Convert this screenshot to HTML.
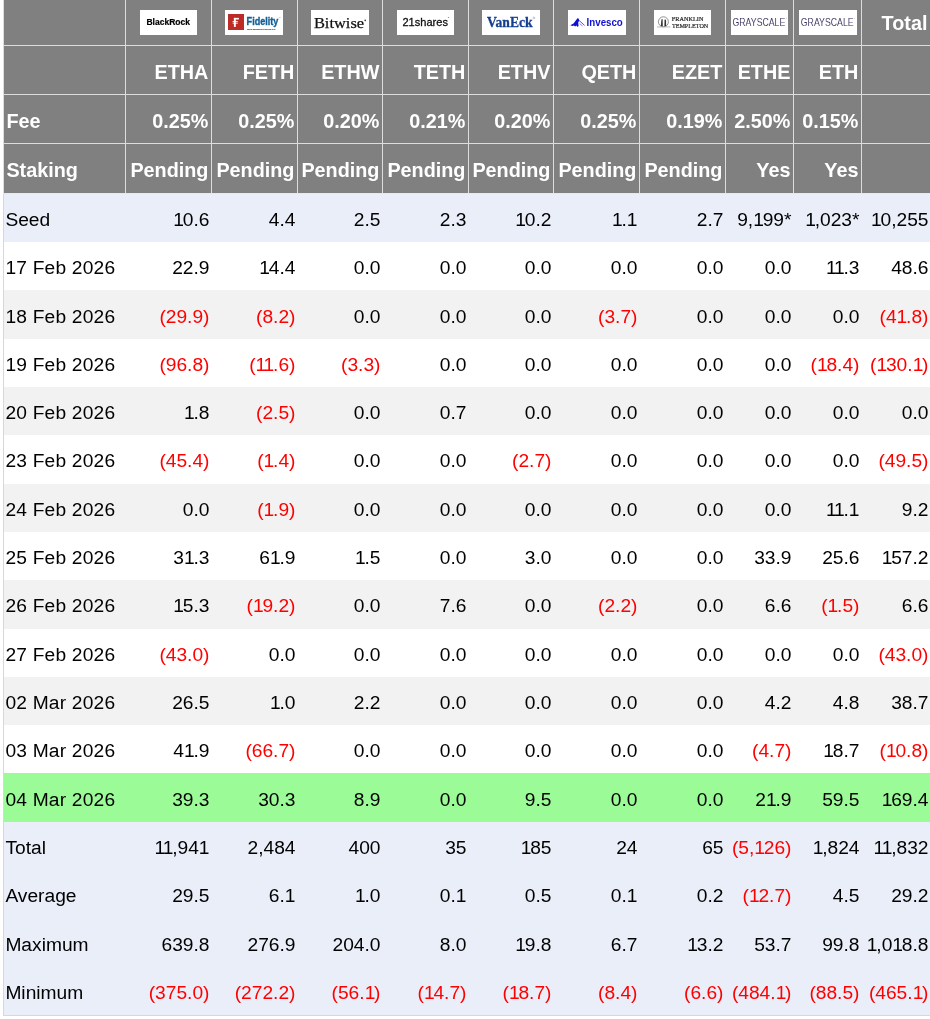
<!DOCTYPE html><html><head><meta charset="utf-8"><style>
html,body{margin:0;padding:0;background:#fff;width:930px;height:1019px;overflow:hidden;position:relative}
*{box-sizing:border-box}
.a{position:absolute}
.t{position:absolute;white-space:nowrap;line-height:20px;font-family:"Liberation Sans",sans-serif;font-size:19.2px;color:#000}
.h{font-weight:bold;color:#fff;font-size:19.8px}
.r{color:#ff0000}
.o{letter-spacing:-1.2px}
.d{letter-spacing:0.2px}
.logo{position:absolute;background:#fff;top:10px;height:25px;overflow:hidden}

</style></head><body>
<div class="a" style="left:4px;top:0;width:926px;height:193px;background:#808080"></div>
<div class="a" style="left:3px;top:0;width:1px;height:193px;background:#dddddd"></div>
<div class="a" style="left:125px;top:0;width:1px;height:193px;background:#dddddd"></div>
<div class="a" style="left:211px;top:0;width:1px;height:193px;background:#dddddd"></div>
<div class="a" style="left:297px;top:0;width:1px;height:193px;background:#dddddd"></div>
<div class="a" style="left:382px;top:0;width:1px;height:193px;background:#dddddd"></div>
<div class="a" style="left:468px;top:0;width:1px;height:193px;background:#dddddd"></div>
<div class="a" style="left:553px;top:0;width:1px;height:193px;background:#dddddd"></div>
<div class="a" style="left:639px;top:0;width:1px;height:193px;background:#dddddd"></div>
<div class="a" style="left:725px;top:0;width:1px;height:193px;background:#dddddd"></div>
<div class="a" style="left:793px;top:0;width:1px;height:193px;background:#dddddd"></div>
<div class="a" style="left:861px;top:0;width:1px;height:193px;background:#dddddd"></div>
<div class="a" style="left:3px;top:45px;width:927px;height:1px;background:#dddddd"></div>
<div class="a" style="left:3px;top:94px;width:927px;height:1px;background:#dddddd"></div>
<div class="a" style="left:3px;top:143px;width:927px;height:1px;background:#dddddd"></div>
<div class="a" style="left:3px;top:193px;width:927px;height:1px;background:#e6e8ec"></div>
<div class="a" style="left:4px;top:194px;width:926px;height:48px;background:#e9eef9"></div>
<div class="a" style="left:4px;top:242px;width:926px;height:48px;background:#ffffff"></div>
<div class="a" style="left:4px;top:290px;width:926px;height:49px;background:#f2f2f2"></div>
<div class="a" style="left:4px;top:339px;width:926px;height:48px;background:#ffffff"></div>
<div class="a" style="left:4px;top:387px;width:926px;height:48px;background:#f2f2f2"></div>
<div class="a" style="left:4px;top:435px;width:926px;height:49px;background:#ffffff"></div>
<div class="a" style="left:4px;top:484px;width:926px;height:48px;background:#f2f2f2"></div>
<div class="a" style="left:4px;top:532px;width:926px;height:48px;background:#ffffff"></div>
<div class="a" style="left:4px;top:580px;width:926px;height:49px;background:#f2f2f2"></div>
<div class="a" style="left:4px;top:629px;width:926px;height:48px;background:#ffffff"></div>
<div class="a" style="left:4px;top:677px;width:926px;height:48px;background:#f2f2f2"></div>
<div class="a" style="left:4px;top:725px;width:926px;height:48px;background:#ffffff"></div>
<div class="a" style="left:4px;top:773px;width:926px;height:49px;background:#9bfc97"></div>
<div class="a" style="left:4px;top:822px;width:926px;height:48px;background:#e9eef9"></div>
<div class="a" style="left:4px;top:870px;width:926px;height:48px;background:#e9eef9"></div>
<div class="a" style="left:4px;top:918px;width:926px;height:49px;background:#e9eef9"></div>
<div class="a" style="left:4px;top:967px;width:926px;height:48px;background:#e9eef9"></div>
<div class="a" style="left:3px;top:194px;width:1px;height:822px;background:#dcd8ce"></div>
<div class="a" style="left:3px;top:1015px;width:927px;height:1px;background:#dcd8ce"></div>
<div class="a" style="left:0;top:0;width:930px;height:1019px;will-change:transform">
<div class="t h" style="top:13.14px;right:2.60px">Total</div>
<div class="t h" style="top:61.64px;right:721.60px">ETHA</div>
<div class="t h" style="top:61.64px;right:635.60px">FETH</div>
<div class="t h" style="top:61.64px;right:550.60px">ETHW</div>
<div class="t h" style="top:61.64px;right:464.60px">TETH</div>
<div class="t h" style="top:61.64px;right:379.60px">ETHV</div>
<div class="t h" style="top:61.64px;right:293.60px">QETH</div>
<div class="t h" style="top:61.64px;right:207.60px">EZET</div>
<div class="t h" style="top:61.64px;right:139.60px">ETHE</div>
<div class="t h" style="top:61.64px;right:71.60px">ETH</div>
<div class="t h" style="top:111.44px;left:6.40px">Fee</div>
<div class="t h" style="top:111.44px;right:721.60px">0.25%</div>
<div class="t h" style="top:111.44px;right:635.60px">0.25%</div>
<div class="t h" style="top:111.44px;right:550.60px">0.20%</div>
<div class="t h" style="top:111.44px;right:464.60px">0.21%</div>
<div class="t h" style="top:111.44px;right:379.60px">0.20%</div>
<div class="t h" style="top:111.44px;right:293.60px">0.25%</div>
<div class="t h" style="top:111.44px;right:207.60px">0.19%</div>
<div class="t h" style="top:111.44px;right:139.60px">2.50%</div>
<div class="t h" style="top:111.44px;right:71.60px">0.15%</div>
<div class="t h" style="top:159.64px;left:6.40px">Staking</div>
<div class="t h" style="top:159.64px;right:721.60px">Pending</div>
<div class="t h" style="top:159.64px;right:635.60px">Pending</div>
<div class="t h" style="top:159.64px;right:550.60px">Pending</div>
<div class="t h" style="top:159.64px;right:464.60px">Pending</div>
<div class="t h" style="top:159.64px;right:379.60px">Pending</div>
<div class="t h" style="top:159.64px;right:293.60px">Pending</div>
<div class="t h" style="top:159.64px;right:207.60px">Pending</div>
<div class="t h" style="top:159.64px;right:139.60px">Yes</div>
<div class="t h" style="top:159.64px;right:71.60px">Yes</div>
<div class="t" style="top:209.89px;left:5.40px">Seed</div>
<div class="t" style="top:209.89px;right:720.50px"><span class="o">1</span>0.6</div>
<div class="t" style="top:209.89px;right:634.50px">4.4</div>
<div class="t" style="top:209.89px;right:549.50px">2.5</div>
<div class="t" style="top:209.89px;right:463.50px">2.3</div>
<div class="t" style="top:209.89px;right:378.50px"><span class="o">1</span>0.2</div>
<div class="t" style="top:209.89px;right:292.50px"><span class="o">1</span>.1</div>
<div class="t" style="top:209.89px;right:206.50px">2.7</div>
<div class="t" style="top:209.89px;right:138.50px">9,<span class="o">1</span>99*</div>
<div class="t" style="top:209.89px;right:70.50px"><span class="o">1</span>,023*</div>
<div class="t" style="top:209.89px;right:1.50px"><span class="o">1</span>0,255</div>
<div class="t d" style="top:258.20px;left:5.40px">17 Feb 2026</div>
<div class="t" style="top:258.20px;right:720.50px">22.9</div>
<div class="t" style="top:258.20px;right:634.50px"><span class="o">1</span>4.4</div>
<div class="t" style="top:258.20px;right:549.50px">0.0</div>
<div class="t" style="top:258.20px;right:463.50px">0.0</div>
<div class="t" style="top:258.20px;right:378.50px">0.0</div>
<div class="t" style="top:258.20px;right:292.50px">0.0</div>
<div class="t" style="top:258.20px;right:206.50px">0.0</div>
<div class="t" style="top:258.20px;right:138.50px">0.0</div>
<div class="t" style="top:258.20px;right:70.50px"><span class="o">1</span><span class="o">1</span>.3</div>
<div class="t" style="top:258.20px;right:1.50px">48.6</div>
<div class="t d" style="top:306.51px;left:5.40px">18 Feb 2026</div>
<div class="t r" style="top:306.51px;right:720.50px">(29.9)</div>
<div class="t r" style="top:306.51px;right:634.50px">(8.2)</div>
<div class="t" style="top:306.51px;right:549.50px">0.0</div>
<div class="t" style="top:306.51px;right:463.50px">0.0</div>
<div class="t" style="top:306.51px;right:378.50px">0.0</div>
<div class="t r" style="top:306.51px;right:292.50px">(3.7)</div>
<div class="t" style="top:306.51px;right:206.50px">0.0</div>
<div class="t" style="top:306.51px;right:138.50px">0.0</div>
<div class="t" style="top:306.51px;right:70.50px">0.0</div>
<div class="t r" style="top:306.51px;right:1.50px">(4<span class="o">1</span>.8)</div>
<div class="t d" style="top:354.82px;left:5.40px">19 Feb 2026</div>
<div class="t r" style="top:354.82px;right:720.50px">(96.8)</div>
<div class="t r" style="top:354.82px;right:634.50px">(<span class="o">1</span><span class="o">1</span>.6)</div>
<div class="t r" style="top:354.82px;right:549.50px">(3.3)</div>
<div class="t" style="top:354.82px;right:463.50px">0.0</div>
<div class="t" style="top:354.82px;right:378.50px">0.0</div>
<div class="t" style="top:354.82px;right:292.50px">0.0</div>
<div class="t" style="top:354.82px;right:206.50px">0.0</div>
<div class="t" style="top:354.82px;right:138.50px">0.0</div>
<div class="t r" style="top:354.82px;right:70.50px">(<span class="o">1</span>8.4)</div>
<div class="t r" style="top:354.82px;right:1.50px">(<span class="o">1</span>30.<span class="o">1</span>)</div>
<div class="t d" style="top:403.13px;left:5.40px">20 Feb 2026</div>
<div class="t" style="top:403.13px;right:720.50px"><span class="o">1</span>.8</div>
<div class="t r" style="top:403.13px;right:634.50px">(2.5)</div>
<div class="t" style="top:403.13px;right:549.50px">0.0</div>
<div class="t" style="top:403.13px;right:463.50px">0.7</div>
<div class="t" style="top:403.13px;right:378.50px">0.0</div>
<div class="t" style="top:403.13px;right:292.50px">0.0</div>
<div class="t" style="top:403.13px;right:206.50px">0.0</div>
<div class="t" style="top:403.13px;right:138.50px">0.0</div>
<div class="t" style="top:403.13px;right:70.50px">0.0</div>
<div class="t" style="top:403.13px;right:1.50px">0.0</div>
<div class="t d" style="top:451.44px;left:5.40px">23 Feb 2026</div>
<div class="t r" style="top:451.44px;right:720.50px">(45.4)</div>
<div class="t r" style="top:451.44px;right:634.50px">(<span class="o">1</span>.4)</div>
<div class="t" style="top:451.44px;right:549.50px">0.0</div>
<div class="t" style="top:451.44px;right:463.50px">0.0</div>
<div class="t r" style="top:451.44px;right:378.50px">(2.7)</div>
<div class="t" style="top:451.44px;right:292.50px">0.0</div>
<div class="t" style="top:451.44px;right:206.50px">0.0</div>
<div class="t" style="top:451.44px;right:138.50px">0.0</div>
<div class="t" style="top:451.44px;right:70.50px">0.0</div>
<div class="t r" style="top:451.44px;right:1.50px">(49.5)</div>
<div class="t d" style="top:499.75px;left:5.40px">24 Feb 2026</div>
<div class="t" style="top:499.75px;right:720.50px">0.0</div>
<div class="t r" style="top:499.75px;right:634.50px">(<span class="o">1</span>.9)</div>
<div class="t" style="top:499.75px;right:549.50px">0.0</div>
<div class="t" style="top:499.75px;right:463.50px">0.0</div>
<div class="t" style="top:499.75px;right:378.50px">0.0</div>
<div class="t" style="top:499.75px;right:292.50px">0.0</div>
<div class="t" style="top:499.75px;right:206.50px">0.0</div>
<div class="t" style="top:499.75px;right:138.50px">0.0</div>
<div class="t" style="top:499.75px;right:70.50px"><span class="o">1</span><span class="o">1</span>.1</div>
<div class="t" style="top:499.75px;right:1.50px">9.2</div>
<div class="t d" style="top:548.06px;left:5.40px">25 Feb 2026</div>
<div class="t" style="top:548.06px;right:720.50px">3<span class="o">1</span>.3</div>
<div class="t" style="top:548.06px;right:634.50px">6<span class="o">1</span>.9</div>
<div class="t" style="top:548.06px;right:549.50px"><span class="o">1</span>.5</div>
<div class="t" style="top:548.06px;right:463.50px">0.0</div>
<div class="t" style="top:548.06px;right:378.50px">3.0</div>
<div class="t" style="top:548.06px;right:292.50px">0.0</div>
<div class="t" style="top:548.06px;right:206.50px">0.0</div>
<div class="t" style="top:548.06px;right:138.50px">33.9</div>
<div class="t" style="top:548.06px;right:70.50px">25.6</div>
<div class="t" style="top:548.06px;right:1.50px"><span class="o">1</span>57.2</div>
<div class="t d" style="top:596.37px;left:5.40px">26 Feb 2026</div>
<div class="t" style="top:596.37px;right:720.50px"><span class="o">1</span>5.3</div>
<div class="t r" style="top:596.37px;right:634.50px">(<span class="o">1</span>9.2)</div>
<div class="t" style="top:596.37px;right:549.50px">0.0</div>
<div class="t" style="top:596.37px;right:463.50px">7.6</div>
<div class="t" style="top:596.37px;right:378.50px">0.0</div>
<div class="t r" style="top:596.37px;right:292.50px">(2.2)</div>
<div class="t" style="top:596.37px;right:206.50px">0.0</div>
<div class="t" style="top:596.37px;right:138.50px">6.6</div>
<div class="t r" style="top:596.37px;right:70.50px">(<span class="o">1</span>.5)</div>
<div class="t" style="top:596.37px;right:1.50px">6.6</div>
<div class="t d" style="top:644.68px;left:5.40px">27 Feb 2026</div>
<div class="t r" style="top:644.68px;right:720.50px">(43.0)</div>
<div class="t" style="top:644.68px;right:634.50px">0.0</div>
<div class="t" style="top:644.68px;right:549.50px">0.0</div>
<div class="t" style="top:644.68px;right:463.50px">0.0</div>
<div class="t" style="top:644.68px;right:378.50px">0.0</div>
<div class="t" style="top:644.68px;right:292.50px">0.0</div>
<div class="t" style="top:644.68px;right:206.50px">0.0</div>
<div class="t" style="top:644.68px;right:138.50px">0.0</div>
<div class="t" style="top:644.68px;right:70.50px">0.0</div>
<div class="t r" style="top:644.68px;right:1.50px">(43.0)</div>
<div class="t d" style="top:692.99px;left:5.40px">02 Mar 2026</div>
<div class="t" style="top:692.99px;right:720.50px">26.5</div>
<div class="t" style="top:692.99px;right:634.50px"><span class="o">1</span>.0</div>
<div class="t" style="top:692.99px;right:549.50px">2.2</div>
<div class="t" style="top:692.99px;right:463.50px">0.0</div>
<div class="t" style="top:692.99px;right:378.50px">0.0</div>
<div class="t" style="top:692.99px;right:292.50px">0.0</div>
<div class="t" style="top:692.99px;right:206.50px">0.0</div>
<div class="t" style="top:692.99px;right:138.50px">4.2</div>
<div class="t" style="top:692.99px;right:70.50px">4.8</div>
<div class="t" style="top:692.99px;right:1.50px">38.7</div>
<div class="t d" style="top:741.30px;left:5.40px">03 Mar 2026</div>
<div class="t" style="top:741.30px;right:720.50px">4<span class="o">1</span>.9</div>
<div class="t r" style="top:741.30px;right:634.50px">(66.7)</div>
<div class="t" style="top:741.30px;right:549.50px">0.0</div>
<div class="t" style="top:741.30px;right:463.50px">0.0</div>
<div class="t" style="top:741.30px;right:378.50px">0.0</div>
<div class="t" style="top:741.30px;right:292.50px">0.0</div>
<div class="t" style="top:741.30px;right:206.50px">0.0</div>
<div class="t r" style="top:741.30px;right:138.50px">(4.7)</div>
<div class="t" style="top:741.30px;right:70.50px"><span class="o">1</span>8.7</div>
<div class="t r" style="top:741.30px;right:1.50px">(<span class="o">1</span>0.8)</div>
<div class="t d" style="top:789.61px;left:5.40px">04 Mar 2026</div>
<div class="t" style="top:789.61px;right:720.50px">39.3</div>
<div class="t" style="top:789.61px;right:634.50px">30.3</div>
<div class="t" style="top:789.61px;right:549.50px">8.9</div>
<div class="t" style="top:789.61px;right:463.50px">0.0</div>
<div class="t" style="top:789.61px;right:378.50px">9.5</div>
<div class="t" style="top:789.61px;right:292.50px">0.0</div>
<div class="t" style="top:789.61px;right:206.50px">0.0</div>
<div class="t" style="top:789.61px;right:138.50px">2<span class="o">1</span>.9</div>
<div class="t" style="top:789.61px;right:70.50px">59.5</div>
<div class="t" style="top:789.61px;right:1.50px"><span class="o">1</span>69.4</div>
<div class="t" style="top:837.92px;left:5.40px">Total</div>
<div class="t" style="top:837.92px;right:720.50px"><span class="o">1</span><span class="o">1</span>,941</div>
<div class="t" style="top:837.92px;right:634.50px">2,484</div>
<div class="t" style="top:837.92px;right:549.50px">400</div>
<div class="t" style="top:837.92px;right:463.50px">35</div>
<div class="t" style="top:837.92px;right:378.50px"><span class="o">1</span>85</div>
<div class="t" style="top:837.92px;right:292.50px">24</div>
<div class="t" style="top:837.92px;right:206.50px">65</div>
<div class="t r" style="top:837.92px;right:138.50px">(5,<span class="o">1</span>26)</div>
<div class="t" style="top:837.92px;right:70.50px"><span class="o">1</span>,824</div>
<div class="t" style="top:837.92px;right:1.50px"><span class="o">1</span><span class="o">1</span>,832</div>
<div class="t" style="top:886.23px;left:5.40px">Average</div>
<div class="t" style="top:886.23px;right:720.50px">29.5</div>
<div class="t" style="top:886.23px;right:634.50px">6.1</div>
<div class="t" style="top:886.23px;right:549.50px"><span class="o">1</span>.0</div>
<div class="t" style="top:886.23px;right:463.50px">0.1</div>
<div class="t" style="top:886.23px;right:378.50px">0.5</div>
<div class="t" style="top:886.23px;right:292.50px">0.1</div>
<div class="t" style="top:886.23px;right:206.50px">0.2</div>
<div class="t r" style="top:886.23px;right:138.50px">(<span class="o">1</span>2.7)</div>
<div class="t" style="top:886.23px;right:70.50px">4.5</div>
<div class="t" style="top:886.23px;right:1.50px">29.2</div>
<div class="t" style="top:934.54px;left:5.40px">Maximum</div>
<div class="t" style="top:934.54px;right:720.50px">639.8</div>
<div class="t" style="top:934.54px;right:634.50px">276.9</div>
<div class="t" style="top:934.54px;right:549.50px">204.0</div>
<div class="t" style="top:934.54px;right:463.50px">8.0</div>
<div class="t" style="top:934.54px;right:378.50px"><span class="o">1</span>9.8</div>
<div class="t" style="top:934.54px;right:292.50px">6.7</div>
<div class="t" style="top:934.54px;right:206.50px"><span class="o">1</span>3.2</div>
<div class="t" style="top:934.54px;right:138.50px">53.7</div>
<div class="t" style="top:934.54px;right:70.50px">99.8</div>
<div class="t" style="top:934.54px;right:1.50px"><span class="o">1</span>,0<span class="o">1</span>8.8</div>
<div class="t" style="top:982.85px;left:5.40px">Minimum</div>
<div class="t r" style="top:982.85px;right:720.50px">(375.0)</div>
<div class="t r" style="top:982.85px;right:634.50px">(272.2)</div>
<div class="t r" style="top:982.85px;right:549.50px">(56.<span class="o">1</span>)</div>
<div class="t r" style="top:982.85px;right:463.50px">(<span class="o">1</span>4.7)</div>
<div class="t r" style="top:982.85px;right:378.50px">(<span class="o">1</span>8.7)</div>
<div class="t r" style="top:982.85px;right:292.50px">(8.4)</div>
<div class="t r" style="top:982.85px;right:206.50px">(6.6)</div>
<div class="t r" style="top:982.85px;right:138.50px">(484.<span class="o">1</span>)</div>
<div class="t r" style="top:982.85px;right:70.50px">(88.5)</div>
<div class="t r" style="top:982.85px;right:1.50px">(465.<span class="o">1</span>)</div>
<svg class="a" style="left:140px;top:10px" width="57" height="25" viewBox="0 0 57 25"><rect width="57" height="25" fill="#fff"/><text x="6.4" y="15.2" font-family='"Liberation Sans",sans-serif' font-size="9.0" font-weight="bold" fill="#000" textLength="43.6" lengthAdjust="spacingAndGlyphs" stroke="#000" stroke-width="0.2">BlackRock</text></svg>
<svg class="a" style="left:225px;top:10px" width="58" height="25" viewBox="0 0 58 25"><rect width="58" height="25" fill="#fff"/><rect x="3" y="4" width="16" height="16" fill="#bd2b26"/><rect x="8.9" y="7.9" width="1.9" height="9" fill="#fff"/><rect x="8.9" y="7.9" width="5" height="1.6" fill="#fff"/><rect x="7.6" y="11.0" width="5.2" height="0.9" fill="#fff"/><rect x="7.6" y="12.7" width="5.2" height="0.9" fill="#fff"/><text x="21.6" y="14.7" font-family='"Liberation Sans",sans-serif' font-size="10.6" font-weight="bold" fill="#135f97" textLength="31.8" lengthAdjust="spacingAndGlyphs" stroke="#135f97" stroke-width="0.35">Fidelity</text><text x="22" y="19.7" font-family='"Liberation Sans",sans-serif' font-size="2.1" font-weight="bold" fill="#1d6aa0" textLength="29" lengthAdjust="spacingAndGlyphs" stroke="#1d6aa0" stroke-width="0.12">INTERNATIONAL</text><text x="53.4" y="7.6" font-family='"Liberation Sans",sans-serif' font-size="2.2" font-weight="normal" fill="#8ab" textLength="2.6" lengthAdjust="spacingAndGlyphs" >TM</text></svg>
<svg class="a" style="left:311px;top:10px" width="58" height="25" viewBox="0 0 58 25"><rect width="58" height="25" fill="#fff"/><text x="2.9" y="17.6" font-family='"Liberation Serif",serif' font-size="15.6" font-weight="normal" fill="#111" textLength="50.2" lengthAdjust="spacingAndGlyphs" stroke="#111" stroke-width="0.25">Bitwise</text><circle cx="54.2" cy="10.4" r="0.8" fill="#333"/></svg>
<svg class="a" style="left:397px;top:10px" width="57" height="25" viewBox="0 0 57 25"><rect width="57" height="25" fill="#fff"/><text x="5.4" y="15.7" font-family='"Liberation Sans",sans-serif' font-size="11.2" font-weight="normal" fill="#111" textLength="45.6" lengthAdjust="spacingAndGlyphs" stroke="#111" stroke-width="0.3">21shares</text><circle cx="51.6" cy="7.6" r="0.5" fill="#666"/></svg>
<svg class="a" style="left:482px;top:10px" width="58" height="25" viewBox="0 0 58 25"><rect width="58" height="25" fill="#fff"/><text x="5.0" y="16.8" font-family='"Liberation Serif",serif' font-size="14.8" font-weight="bold" fill="#143f8f" textLength="45.6" lengthAdjust="spacingAndGlyphs" stroke="#143f8f" stroke-width="0.3">VanEck</text><circle cx="51.9" cy="7.9" r="0.9" fill="none" stroke="#7a8fb8" stroke-width="0.5"/></svg>
<svg class="a" style="left:568px;top:10px" width="58" height="25" viewBox="0 0 58 25"><rect width="58" height="25" fill="#fff"/><path d="M2.3 15.2 L5.5 13.6 L7.8 10.4 L9.4 8.2 L10.6 8.6 L11.2 10.2 L10.2 12.8 L10.6 15.8 L9.6 16.9 L8.4 15.6 L7.2 16.6 L5.8 15.6 L4.4 16.0 Z" fill="#1111d4"/><path d="M11.0 10.4 L16.6 15.4" stroke="#1111d4" stroke-width="0.7" fill="none"/><path d="M11.6 13.6 L14.6 16.0" stroke="#1111d4" stroke-width="0.5" fill="none"/><text x="18.6" y="15.5" font-family='"Liberation Sans",sans-serif' font-size="10.2" font-weight="bold" fill="#1111d4" textLength="36.2" lengthAdjust="spacingAndGlyphs" >Invesco</text></svg>
<svg class="a" style="left:654px;top:10px" width="57" height="25" viewBox="0 0 57 25"><rect width="57" height="25" fill="#fff"/><circle cx="9.4" cy="11.8" r="5.0" fill="none" stroke="#777" stroke-width="0.8"/><path d="M6.8 16.2 L7.4 9.6 L8.6 9.0 L8.8 16.2 Z" fill="#333"/><path d="M10.4 16.2 L10.6 9.4 L12 9.8 L12.2 16.2 Z" fill="#333"/><rect x="3" y="16.6" width="13.5" height="0.7" fill="#999"/><text x="17.8" y="11.2" font-family='"Liberation Serif",serif' font-size="6.4" font-weight="normal" fill="#222" textLength="31.6" lengthAdjust="spacingAndGlyphs" stroke="#222" stroke-width="0.2">FRANKLIN</text><text x="17.9" y="17.6" font-family='"Liberation Serif",serif' font-size="6.6" font-weight="normal" fill="#222" textLength="36.4" lengthAdjust="spacingAndGlyphs" stroke="#222" stroke-width="0.2">TEMPLETON</text></svg>
<svg class="a" style="left:731px;top:10px" width="57" height="25" viewBox="0 0 57 25"><rect width="57" height="25" fill="#fff"/><text x="1.5" y="15.9" font-family='"Liberation Sans",sans-serif' font-size="11.2" font-weight="normal" fill="#2e2a58" textLength="52.8" lengthAdjust="spacingAndGlyphs" stroke="#fff" stroke-width="0.1">GRAYSCALE</text><circle cx="55.4" cy="8.2" r="0.4" fill="#888"/></svg>
<svg class="a" style="left:799px;top:10px" width="58" height="25" viewBox="0 0 58 25"><rect width="58" height="25" fill="#fff"/><text x="1.8" y="15.9" font-family='"Liberation Sans",sans-serif' font-size="11.2" font-weight="normal" fill="#2e2a58" textLength="52.8" lengthAdjust="spacingAndGlyphs" stroke="#fff" stroke-width="0.1">GRAYSCALE</text><circle cx="55.7" cy="8.2" r="0.4" fill="#888"/></svg>
</div>
</body></html>
